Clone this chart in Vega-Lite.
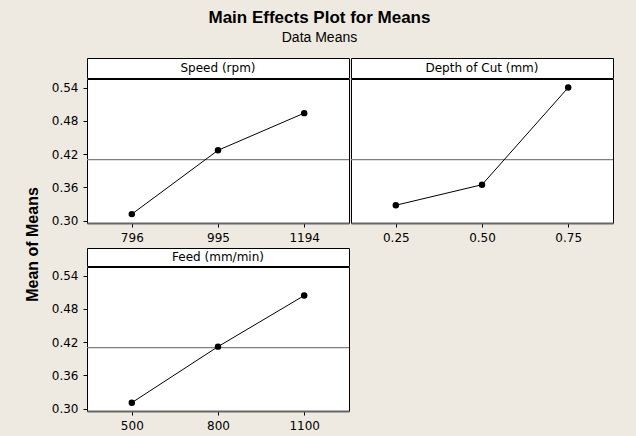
{
  "$schema": "https://vega.github.io/schema/vega-lite/v6.json",
  "background": "#eeeae1",
  "padding": {"left": 24, "top": 8, "right": 26, "bottom": 4},
  "data": {"values": [
      {"factor": "Speed (rpm)", "level": "796", "mean": 0.312},
      {"factor": "Speed (rpm)", "level": "995", "mean": 0.427},
      {"factor": "Speed (rpm)", "level": "1194", "mean": 0.494},
      {"factor": "Depth of Cut (mm)", "level": "0.25", "mean": 0.328},
      {"factor": "Depth of Cut (mm)", "level": "0.50", "mean": 0.365},
      {"factor": "Depth of Cut (mm)", "level": "0.75", "mean": 0.540},
      {"factor": "Feed (mm/min)", "level": "500", "mean": 0.311},
      {"factor": "Feed (mm/min)", "level": "800", "mean": 0.412},
      {"factor": "Feed (mm/min)", "level": "1100", "mean": 0.504}
  ]},
  "title": {
    "text": "Main Effects Plot for Means",
    "subtitle": "Data Means",
    "font": "Liberation Sans",
    "fontSize": 17,
    "fontWeight": "bold",
    "color": "#000",
    "subtitleFont": "Liberation Sans",
    "subtitleFontSize": 14,
    "subtitleColor": "#000",
    "subtitlePadding": 4,
    "offset": 12,
    "anchor": "middle"
  },
  "vconcat": [
    {
      "title": {
        "text": "Mean of Means",
        "orient": "left",
        "font": "Liberation Sans",
        "fontSize": 16,
        "fontWeight": "bold",
        "color": "#000",
        "offset": 10,
        "anchor": "middle"
      },
      "spacing": 3,
      "vconcat": [
        {
          "spacing": -4,
          "hconcat": [
            {
              "spacing": -3,
              "vconcat": [
                {
                  "width": 262, "height": 20,
                  "view": {"stroke": "#000", "strokeWidth": 1, "fill": "#ffffff"},
                  "transform": [
                    {"filter": "datum.factor === 'Speed (rpm)'"},
                    {"aggregate": [{"op": "count", "as": "n"}], "groupby": ["factor"]}
                  ],
                  "mark": {"type": "text", "font": "DejaVu Sans", "fontSize": 12, "color": "#000"},
                  "encoding": {"text": {"field": "factor", "type": "nominal"}}
                },
                {
                  "width": 262, "height": 144,
                  "layer": [
                    {
                      "mark": {"type": "rule", "color": "#808080", "strokeWidth": 1.3},
                      "encoding": {"y": {"aggregate": "mean", "field": "mean", "type": "quantitative", "axis": {"title": null, "values": [0.30, 0.36, 0.42, 0.48, 0.54], "format": ".2f"}}}
                    },
                    {
                      "transform": [{"filter": "datum.factor === 'Speed (rpm)'"}],
                      "mark": {"type": "line", "color": "#000", "strokeWidth": 1, "point": {"filled": true, "color": "#000", "size": 42, "opacity": 1}},
                      "encoding": {
                        "x": {"field": "level", "type": "ordinal", "sort": null, "scale": {"type": "point", "padding": 0.52}, "axis": {"title": null, "labelAngle": 0, "domain": true, "domainColor": "#666", "domainWidth": 2}},
                        "y": {"field": "mean", "type": "quantitative", "scale": {"domain": [0.296, 0.5555], "nice": false, "zero": false}, "axis": {"title": null, "values": [0.30, 0.36, 0.42, 0.48, 0.54], "format": ".2f"}}
                      }
                    }
                  ]
                }
              ]
            },
            {
              "spacing": -3,
              "vconcat": [
                {
                  "width": 262, "height": 20,
                  "view": {"stroke": "#000", "strokeWidth": 1, "fill": "#ffffff"},
                  "transform": [
                    {"filter": "datum.factor === 'Depth of Cut (mm)'"},
                    {"aggregate": [{"op": "count", "as": "n"}], "groupby": ["factor"]}
                  ],
                  "mark": {"type": "text", "font": "DejaVu Sans", "fontSize": 12, "color": "#000"},
                  "encoding": {"text": {"field": "factor", "type": "nominal"}}
                },
                {
                  "width": 262, "height": 144,
                  "layer": [
                    {
                      "mark": {"type": "rule", "color": "#808080", "strokeWidth": 1.3},
                      "encoding": {"y": {"aggregate": "mean", "field": "mean", "type": "quantitative", "axis": {"title": null, "labels": false, "ticks": false, "domain": false}}}
                    },
                    {
                      "transform": [{"filter": "datum.factor === 'Depth of Cut (mm)'"}],
                      "mark": {"type": "line", "color": "#000", "strokeWidth": 1, "point": {"filled": true, "color": "#000", "size": 42, "opacity": 1}},
                      "encoding": {
                        "x": {"field": "level", "type": "ordinal", "sort": null, "scale": {"type": "point", "padding": 0.52}, "axis": {"title": null, "labelAngle": 0, "domain": true, "domainColor": "#666", "domainWidth": 2}},
                        "y": {"field": "mean", "type": "quantitative", "scale": {"domain": [0.296, 0.5555], "nice": false, "zero": false}, "axis": {"title": null, "labels": false, "ticks": false, "domain": false}}
                      }
                    }
                  ]
                }
              ]
            }
          ]
        },
        {
          "spacing": -3,
          "vconcat": [
            {
              "width": 262, "height": 18,
              "view": {"stroke": "#000", "strokeWidth": 1, "fill": "#ffffff"},
              "transform": [
                {"filter": "datum.factor === 'Feed (mm/min)'"},
                {"aggregate": [{"op": "count", "as": "n"}], "groupby": ["factor"]}
              ],
              "mark": {"type": "text", "font": "DejaVu Sans", "fontSize": 12, "color": "#000"},
              "encoding": {"text": {"field": "factor", "type": "nominal"}}
            },
            {
              "width": 262, "height": 144,
              "layer": [
                {
                  "mark": {"type": "rule", "color": "#808080", "strokeWidth": 1.3},
                  "encoding": {"y": {"aggregate": "mean", "field": "mean", "type": "quantitative", "axis": {"title": null, "values": [0.30, 0.36, 0.42, 0.48, 0.54], "format": ".2f"}}}
                },
                {
                  "transform": [{"filter": "datum.factor === 'Feed (mm/min)'"}],
                  "mark": {"type": "line", "color": "#000", "strokeWidth": 1, "point": {"filled": true, "color": "#000", "size": 42, "opacity": 1}},
                  "encoding": {
                    "x": {"field": "level", "type": "ordinal", "sort": null, "scale": {"type": "point", "padding": 0.52}, "axis": {"title": null, "labelAngle": 0, "domain": true, "domainColor": "#666", "domainWidth": 2}},
                    "y": {"field": "mean", "type": "quantitative", "scale": {"domain": [0.296, 0.5555], "nice": false, "zero": false}, "axis": {"title": null, "values": [0.30, 0.36, 0.42, 0.48, 0.54], "format": ".2f"}}
                  }
                }
              ]
            }
          ]
        }
      ]
    }
  ],
  "config": {
    "font": "DejaVu Sans",
    "view": {"stroke": "#000", "strokeWidth": 1, "fill": "#ffffff"},
    "axis": {
      "grid": false,
      "domain": false,
      "labelFont": "DejaVu Sans",
      "labelFontSize": 12,
      "labelColor": "#000",
      "tickColor": "#000",
      "tickSize": 4,
      "labelPadding": 5
    }
  }
}
